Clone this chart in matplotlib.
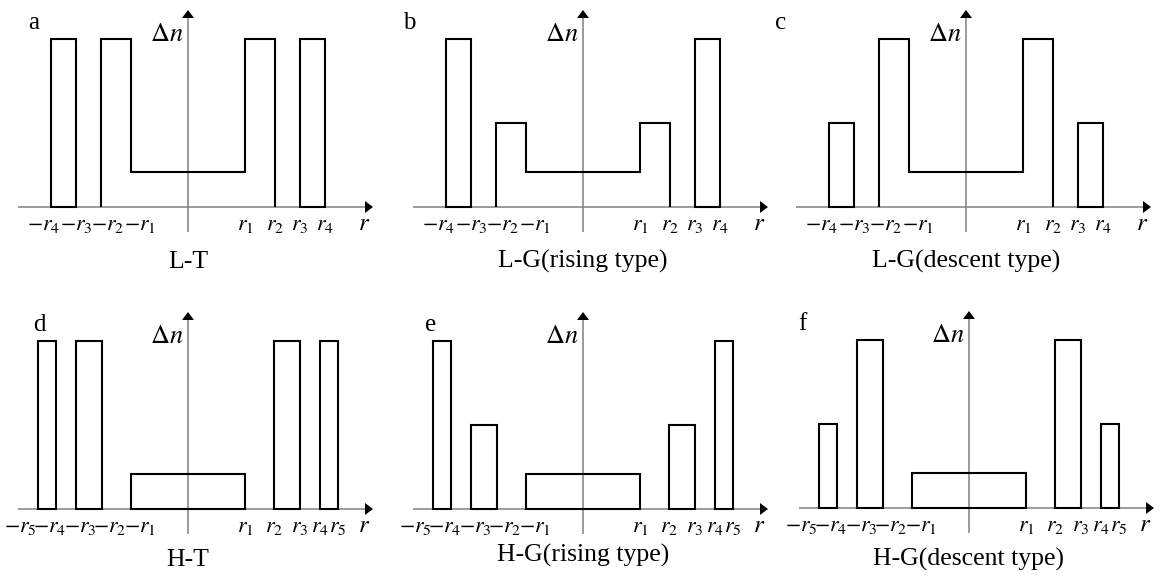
import matplotlib.pyplot as plt
import numpy as np

plt.rcParams['font.family'] = ['Liberation Serif', 'DejaVu Serif']
plt.rcParams['mathtext.fontset'] = 'stix'

# ring radii (schematic units) for the two fibre families
top_radii = [57, 87, 112, 137]
bottom_radii = [57, 86, 112, 132, 150]

# index step heights per ring, from the core outwards
heights_a = [35, 168, 0, 168]
heights_b = [35, 84, 0, 168]
heights_c = [35, 168, 0, 84]
heights_d = [35, 0, 168, 0, 168]
heights_e = [35, 0, 84, 0, 168]
heights_f = [35, 0, 168, 0, 84]

letters = ['a', 'b', 'c', 'd', 'e', 'f']
titles = ['L-T', 'L-G(rising type)', 'L-G(descent type)',
          'H-T', 'H-G(rising type)', 'H-G(descent type)']

W, H = 1160, 576
fig = plt.figure(figsize=(W / 100, H / 100), dpi=100)

gray = '#808080'


def make_axes(ox, oy):
    x0, x1, y0, y1 = -188, 195, -70, 205
    ax = fig.add_axes([(ox + x0) / W, (H - (oy - y0)) / H,
                       (x1 - x0) / W, (y1 - y0) / H])
    ax.set_xlim(x0, x1)
    ax.set_ylim(y0, y1)
    ax.axis('off')
    return ax


def draw_panel(ax, radii, heights, letter, title, letter_x, title_y, step):
    # axes with arrow heads
    ax.plot([-170, 178], [0, 0], color=gray, lw=1.1, solid_capstyle='butt', zorder=1)
    ax.fill([177, 185, 177], [-6, 0, 6], color='k', lw=0, zorder=3)
    ax.plot([0, 0], [-25, 190], color=gray, lw=1.1, solid_capstyle='butt', zorder=1)
    ax.fill([-6, 0, 6], [189, 197, 189], color='k', lw=0, zorder=3)

    r = np.array(radii)
    edges = np.concatenate([-r[::-1], r])
    vals = list(heights[1:][::-1]) + [heights[0]] + list(heights[1:])

    # split into connected non-zero runs
    runs = []
    cur = []
    for i, v in enumerate(vals):
        if v > 0:
            cur.append(i)
        elif cur:
            runs.append(cur)
            cur = []
    if cur:
        runs.append(cur)

    for run in runs:
        if len(run) == 1:
            i = run[0]
            ax.bar(edges[i], vals[i], width=edges[i + 1] - edges[i], align='edge',
                   fill=False, edgecolor='k', linewidth=1.5, zorder=2)
        else:
            sl = slice(run[0], run[-1] + 2)
            st = ax.stairs([vals[i] for i in run], edges[sl], baseline=0,
                           color='k', lw=1.5, zorder=2)
            st.set_joinstyle('miter')

    fs = 16
    for i, rv in enumerate(radii, start=1):
        ax.text(rv, -23, f'$r_{{{i}}}$', ha='center', va='baseline', fontsize=fs)
        ax.text(-radii[0] + 9 - (i - 1) * step, -23, f'$-r_{{{i}}}$',
                ha='center', va='baseline', fontsize=fs)

    ax.text(176, -23, '$r$', ha='center', va='baseline', fontsize=18)
    ax.text(-4, 166, r'$\Delta n$', ha='right', va='baseline', fontsize=19)
    ax.text(letter_x, 178, letter, ha='left', va='baseline', fontsize=18)
    ax.text(0, title_y, title, ha='center', va='baseline', fontsize=18.5)


origins = [(188, 207), (583, 207), (966, 207), (188, 509), (583, 509), (969, 508)]
letter_xs = [-160, -180, -191, -155, -158, -171]
title_ys = [-61, -61, -61, -57, -53, -58]
label_steps = [32, 32, 32, 30, 30, 30]
all_radii = [top_radii] * 3 + [bottom_radii] * 3
all_heights = [heights_a, heights_b, heights_c, heights_d, heights_e, heights_f]

for k in range(6):
    ax = make_axes(*origins[k])
    draw_panel(ax, all_radii[k], all_heights[k], letters[k], titles[k],
               letter_xs[k], title_ys[k], label_steps[k])

fig.savefig('out.png', dpi=100)
